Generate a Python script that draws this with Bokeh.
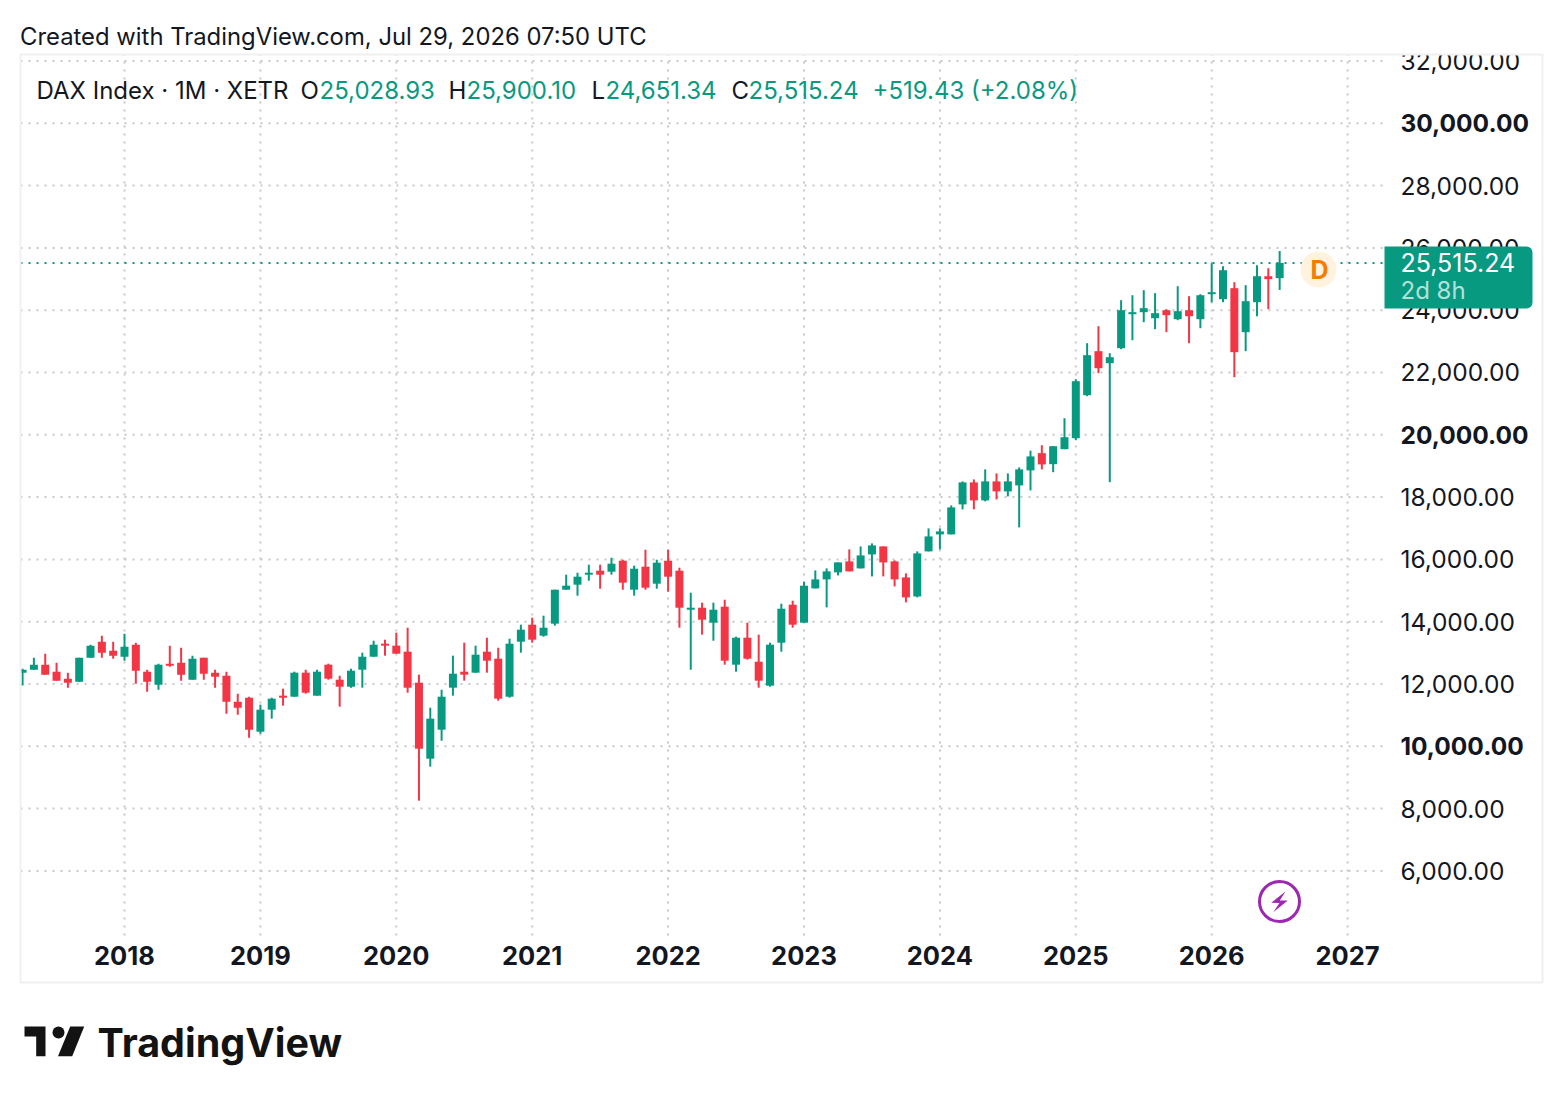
from bokeh.plotting import figure
from bokeh.models import (FixedTicker, NumeralTickFormatter, Label, BoxAnnotation, PolyAnnotation,
                          ColumnDataSource)
from bokeh.embed import file_html
from bokeh.resources import INLINE

# ---------- DATA (DAX Index, monthly candles, Apr 2017 .. Jul 2026) ----------
opens = [12360,12460,12620,12395,12170,12074,12844,13358,13069,12876,13262,12395,11978,12652,12684,12138,12844,12363,12267,11432,11560,10469,11175,11625,11592,
         12363,11625,12620,12138,11913,12459,12876,13294,13230,13037,12042,9602,10533,11881,12395,12363,13037,12812,11592,13358,13904,13551,
         13936,15027,15188,15509,15637,15605,15958,15027,15766,15220,15958,15637,14385,14449,13968,14482,12620,13486,12716,11946,13326,14546,
         13968,15069,15358,15583,15936,15711,16160,16417,15936,15422,14810,16257,16803,16803,17766,18472,17894,18504,18183,18375,18857,19410,19057,
         19538,19891,21271,22684,22299,22780,23872,23936,23743,24000,23711,24000,23711,24514,24353,24706,23294,24257,25091,25028.93]
highs = [12490,12840,12973,12684,12363,12844,13262,13551,13358,13615,13326,12459,12652,13230,13165,12909,12844,12459,12395,11689,11592,11336,11560,11849,12395,
         12459,12459,12652,12267,12491,13005,13390,13422,13647,13807,12299,11239,11817,12909,13326,13230,13486,13165,13454,13904,14128,14193,
         15027,15509,15573,15830,15830,16054,15990,15798,16311,15990,16311,15733,14931,14610,14610,14706,13519,13968,13583,13326,14578,14674,
         15284,15647,15711,15904,16321,16417,16514,16417,15968,15551,16257,16995,16995,17733,18504,18568,18889,18761,18761,18953,19490,19666,19634,
         20533,21785,22941,23486,22620,24321,24481,24642,24546,24032,24770,24449,24514,25509,25412,24899,24803,25445,25348,25900.10]
lows = [11950,12460,12299,12106,11881,12074,12844,12844,12812,12748,12010,11753,11817,12556,12106,12138,12138,11881,11047,11015,10276,10405,10886,11304,11592,
        11689,11625,12138,11271,11881,11881,12876,12909,12973,11721,8254,9346,10180,11625,12106,12363,12363,11464,11560,13005,13326,13519,
        13872,15027,14835,15316,15059,15509,15027,14835,15027,15059,14963,13807,12459,13583,13390,12620,12395,12780,11881,11913,13037,13807,
        13968,15069,14459,15486,15615,15711,15454,15454,15133,14620,14780,16257,16321,16803,17605,17605,17862,17926,18022,17027,18215,18889,18800,
        19538,19827,21239,21978,18479,22748,23037,23615,23390,23294,23679,22941,23422,24257,24257,21849,22684,23807,24032,24651.34]
closes = [12460,12620,12299,12106,12042,12844,13230,13005,12909,13198,12427,12074,12620,12588,12299,12812,12331,12234,11432,11239,10533,11175,11528,11560,12363,
          11721,12395,12170,11913,12427,12876,13262,13230,12973,11881,9923,10886,11592,12331,12299,12941,12748,11528,13294,13743,13422,13807,
          15027,15156,15445,15573,15509,15862,15252,15701,15091,15894,15445,14449,14449,14064,14385,12748,13486,12812,12106,13262,14417,13904,
          15156,15358,15615,15904,15615,16128,16449,15904,15358,14780,16193,16738,16899,17669,18472,17894,18504,18183,18504,18889,19306,19050,19634,
          19923,21721,22555,22138,22491,24000,23936,24064,23904,23840,23968,23807,24481,24578,25284,22652,24289,25091,24995.81,25515.24]
first_month = 4
year_labels = ["2018","2019","2020","2021","2022","2023","2024","2025","2026","2027"]
price_ticks = [6000,8000,12000,14000,16000,18000,22000,24000,26000,28000,32000]
bold_price_ticks = [10000,20000,30000]
legend_title = "DAX Index · 1M · XETR"
legend_letters = ["O","H","L","C"]
legend_values = ["25,028.93","25,900.10","24,651.34","25,515.24"]
legend_change = "+519.43 (+2.08%)"
header = "Created with TradingView.com, Jul 29, 2026 07:50 UTC"
countdown = "2d 8h"
brand = "TradingView"
last_close = closes[-1]

UP = "#089981"; DOWN = "#F23645"; INK = "#131722"; GRID = "#c8c8c8"; FONT = "Inter"

W, H = 1552, 1092
PANE_L, PANE_R, PANE_T, PANE_B = 20, 1383, 54, 935   # chart pane in canvas pixels
PX_PER_MONTH = 11.325
PX_PER_UNIT = 881 / 28283
X0 = 124 - (12 - first_month + 1) * PX_PER_MONTH     # canvas x of first candle
Y_SHIFT = 0.6                                         # chart content sits this far higher


def dx(px):  # canvas x -> month index
    return (px - X0) / PX_PER_MONTH


def dy(py):  # canvas y -> price
    return 3945 + (PANE_B - py - Y_SHIFT) / PX_PER_UNIT


xs = list(range(len(closes)))
tick_x = [(12 - first_month + 1) + 12 * k for k in range(len(year_labels))]

p = figure(width=W, height=H, output_backend="svg", toolbar_location=None,
           x_range=(dx(0), dx(W)), y_range=(dy(H), dy(0)),
           x_axis_location="below", y_axis_location="right",
           min_border=0, background_fill_color="white", border_fill_color="white")
p.outline_line_color = None
p.grid.visible = False

# grid lines, limited to the pane
all_ticks = sorted(price_ticks + bold_price_ticks)
p.segment([dx(PANE_L)] * len(all_ticks), all_ticks, [dx(PANE_R)] * len(all_ticks), all_ticks,
          line_color=GRID, line_width=2, line_dash="2 6")
p.segment(tick_x, [dy(PANE_B)] * len(tick_x), tick_x, [dy(PANE_T)] * len(tick_x),
          line_color=GRID, line_width=2, line_dash="2 6")

# axes
ya = p.yaxis[0]
ya.fixed_location = dx(PANE_R)
ya.ticker = FixedTicker(ticks=price_ticks)
ya.formatter = NumeralTickFormatter(format="0,0.00")
ya.major_label_text_font = FONT; ya.major_label_text_font_size = "24.5px"; ya.major_label_text_color = INK
ya.major_label_standoff = 17; ya.axis_line_color = None
ya.major_tick_line_color = None; ya.minor_tick_line_color = None
ya.major_tick_out = 0; ya.major_tick_in = 0
xa = p.xaxis[0]
xa.fixed_location = dy(PANE_B)
xa.ticker = FixedTicker(ticks=tick_x)
xa.major_label_overrides = {t: s for t, s in zip(tick_x, year_labels)}
xa.major_label_text_font = FONT; xa.major_label_text_font_size = "25.5px"; xa.major_label_text_font_style = "bold"
xa.major_label_text_color = INK; xa.major_label_standoff = 10; xa.axis_line_color = None
xa.major_tick_line_color = None; xa.minor_tick_line_color = None
xa.major_tick_out = 0; xa.major_tick_in = 0

# candles
colors = [UP if c >= o else DOWN for o, c in zip(opens, closes)]
src = ColumnDataSource(dict(x=xs, o=opens, h=highs, l=lows, c=closes, color=colors,
                            top=[max(a, b) for a, b in zip(opens, closes)],
                            bot=[min(a, b) for a, b in zip(opens, closes)]))
p.segment("x", "h", "x", "l", source=src, line_color="color", line_width=2)
p.vbar("x", width=8 / PX_PER_MONTH, top="top", bottom="bot", source=src, fill_color="color", line_color=None)

# last price line
p.segment([dx(PANE_L)], [last_close], [dx(PANE_R)], [last_close], line_color=UP, line_width=2, line_dash="2 6")


def txt(x, y, text, size=24, color=INK, bold=False, font=FONT, align="left"):
    p.add_layout(Label(x=x, y=y, x_units="canvas", y_units="canvas", text=text,
                       text_font=font, text_font_size=f"{size}px", text_color=color,
                       text_baseline="middle", text_align=align,
                       text_font_style="bold" if bold else "normal"))


def box(left, right, top, bottom, **kw):
    b = BoxAnnotation(left=left, right=right, top=top, bottom=bottom,
                      left_units="canvas", right_units="canvas", top_units="canvas", bottom_units="canvas", **kw)
    p.add_layout(b)
    return b


def poly(pts, color):
    p.add_layout(PolyAnnotation(xs=[a for a, _ in pts], ys=[b for _, b in pts],
                                xs_units="canvas", ys_units="canvas",
                                fill_color=color, fill_alpha=1, line_color=None))


# masks: clip what leaves the chart frame (left candle, top axis label), then the frame itself
box(0, 20, 54, 935, fill_color="white", fill_alpha=1, line_color=None)
box(1384, 1541, 40, 54, fill_color="white", fill_alpha=1, line_color=None)
box(20, 1542, 54, 982, fill_alpha=0, line_color="#f0f0f0", line_alpha=1, line_width=2)

# bold price labels
for v in bold_price_ticks:
    p.add_layout(Label(x=1400, y=v, x_units="canvas", y_units="data", text=f"{v:,.2f}",
                       text_font=FONT, text_font_size="24.5px", text_font_style="bold", text_color=INK,
                       text_baseline="middle", text_align="left"))

# header and legend
txt(19.5, 36, header, size=23.85)
txt(36, 89.5, legend_title)
for lx, vx, a, b in zip([300, 448, 591, 731], [319, 466, 605, 748], legend_letters, legend_values):
    txt(lx, 89.5, a)
    txt(vx, 89.5, b, color=UP)
txt(872, 89.5, legend_change, color=UP)

# price tag
box(1384, 1532, 246, 308, fill_color=UP, fill_alpha=1, line_color=None, border_radius=(0, 6, 6, 0))
txt(1400, 261.5, f"{last_close:,.2f}", size=25, color="white")
txt(1400, 289.5, countdown, color="#b5e0d9")

# D badge
box(1300, 1336, 251, 287, fill_color="#fff3e0", fill_alpha=1, line_color=None, border_radius=18)
txt(1319, 269, "D", size=25, color="#f57c00", bold=True, align="center")

# lightning badge
box(1259, 1299, 881, 921, fill_alpha=0, line_color="#9c27b0", line_alpha=1, line_width=3, border_radius=20)
poly([(1285, 891), (1270.7, 902.3), (1279, 902.5), (1272.7, 911.7), (1287.3, 900), (1279.3, 900)], "#9c27b0")

# TradingView logo
poly([(24, 1026), (45, 1026), (45, 1055.7), (35.7, 1055.7), (35.7, 1036), (24, 1036)], "#131313")
box(52, 64, 1026, 1038, fill_color="#131313", fill_alpha=1, line_color=None, border_radius=6)
poly([(83.7, 1026), (71.7, 1055.7), (57.5, 1055.7), (69.7, 1026)], "#131313")
txt(97, 1042, brand, size=39.5, color="#131313", bold=True)

open("out.html", "w").write(file_html(p, INLINE))
